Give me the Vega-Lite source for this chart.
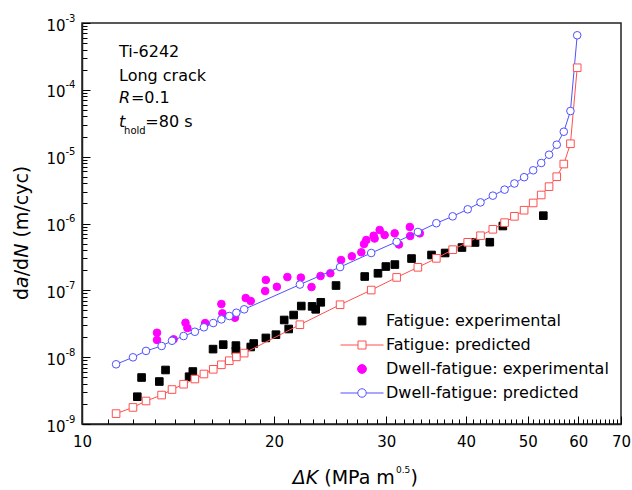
{
  "$schema": "https://vega.github.io/schema/vega-lite/v6.json",
  "width": 539,
  "height": 401,
  "autosize": {"type": "none"},
  "padding": {"left": 82, "top": 23, "right": 11, "bottom": 66},
  "background": "white",
  "config": {
    "font": "DejaVu Sans",
    "view": {"stroke": "#222", "strokeWidth": 1.5},
    "axis": {"labelFont": "DejaVu Sans", "labelColor": "#000", "tickColor": "#000", "domainColor": "#222", "grid": false}
  },
  "datasets": {
    "exp": [
      {"s": "Fatigue: experimental", "k": 12.21, "r": 2.56e-9},
      {"s": "Fatigue: experimental", "k": 12.40, "r": 4.96e-9},
      {"s": "Fatigue: experimental", "k": 13.22, "r": 4.32e-9},
      {"s": "Fatigue: experimental", "k": 13.52, "r": 6.43e-9},
      {"s": "Fatigue: experimental", "k": 14.72, "r": 5.10e-9},
      {"s": "Fatigue: experimental", "k": 14.92, "r": 6.10e-9},
      {"s": "Fatigue: experimental", "k": 16.05, "r": 1.32e-8},
      {"s": "Fatigue: experimental", "k": 16.65, "r": 1.54e-8},
      {"s": "Fatigue: experimental", "k": 17.43, "r": 1.49e-8},
      {"s": "Fatigue: experimental", "k": 17.43, "r": 1.24e-8},
      {"s": "Fatigue: experimental", "k": 18.39, "r": 1.42e-8},
      {"s": "Fatigue: experimental", "k": 18.59, "r": 1.60e-8},
      {"s": "Fatigue: experimental", "k": 19.42, "r": 1.94e-8},
      {"s": "Fatigue: experimental", "k": 20.14, "r": 2.17e-8},
      {"s": "Fatigue: experimental", "k": 20.75, "r": 3.60e-8},
      {"s": "Fatigue: experimental", "k": 21.09, "r": 2.64e-8},
      {"s": "Fatigue: experimental", "k": 21.47, "r": 4.27e-8},
      {"s": "Fatigue: experimental", "k": 22.07, "r": 5.82e-8},
      {"s": "Fatigue: experimental", "k": 22.95, "r": 5.75e-8},
      {"s": "Fatigue: experimental", "k": 23.25, "r": 5.20e-8},
      {"s": "Fatigue: experimental", "k": 23.68, "r": 6.62e-8},
      {"s": "Fatigue: experimental", "k": 25.02, "r": 1.18e-7},
      {"s": "Fatigue: experimental", "k": 27.75, "r": 1.61e-7},
      {"s": "Fatigue: experimental", "k": 29.11, "r": 1.80e-7},
      {"s": "Fatigue: experimental", "k": 29.95, "r": 2.27e-7},
      {"s": "Fatigue: experimental", "k": 30.94, "r": 2.43e-7},
      {"s": "Fatigue: experimental", "k": 32.86, "r": 2.99e-7},
      {"s": "Fatigue: experimental", "k": 35.32, "r": 3.38e-7},
      {"s": "Fatigue: experimental", "k": 37.10, "r": 3.62e-7},
      {"s": "Fatigue: experimental", "k": 39.42, "r": 4.37e-7},
      {"s": "Fatigue: experimental", "k": 41.33, "r": 5.20e-7},
      {"s": "Fatigue: experimental", "k": 43.59, "r": 5.25e-7},
      {"s": "Fatigue: experimental", "k": 45.69, "r": 9.17e-7},
      {"s": "Fatigue: experimental", "k": 52.88, "r": 1.31e-6},
      {"s": "Dwell-fatigue: experimental", "k": 13.11, "r": 2.32e-8},
      {"s": "Dwell-fatigue: experimental", "k": 13.11, "r": 1.81e-8},
      {"s": "Dwell-fatigue: experimental", "k": 13.92, "r": 1.85e-8},
      {"s": "Dwell-fatigue: experimental", "k": 14.53, "r": 3.27e-8},
      {"s": "Dwell-fatigue: experimental", "k": 14.63, "r": 2.73e-8},
      {"s": "Dwell-fatigue: experimental", "k": 15.60, "r": 3.24e-8},
      {"s": "Dwell-fatigue: experimental", "k": 16.54, "r": 6.24e-8},
      {"s": "Dwell-fatigue: experimental", "k": 16.60, "r": 4.53e-8},
      {"s": "Dwell-fatigue: experimental", "k": 17.37, "r": 3.89e-8},
      {"s": "Dwell-fatigue: experimental", "k": 18.06, "r": 7.67e-8},
      {"s": "Dwell-fatigue: experimental", "k": 18.39, "r": 6.92e-8},
      {"s": "Dwell-fatigue: experimental", "k": 19.42, "r": 1.43e-7},
      {"s": "Dwell-fatigue: experimental", "k": 19.37, "r": 9.77e-8},
      {"s": "Dwell-fatigue: experimental", "k": 20.21, "r": 1.13e-7},
      {"s": "Dwell-fatigue: experimental", "k": 20.99, "r": 1.58e-7},
      {"s": "Dwell-fatigue: experimental", "k": 22.04, "r": 1.55e-7},
      {"s": "Dwell-fatigue: experimental", "k": 22.90, "r": 1.12e-7},
      {"s": "Dwell-fatigue: experimental", "k": 23.66, "r": 1.64e-7},
      {"s": "Dwell-fatigue: experimental", "k": 24.51, "r": 1.80e-7},
      {"s": "Dwell-fatigue: experimental", "k": 25.48, "r": 2.84e-7},
      {"s": "Dwell-fatigue: experimental", "k": 26.49, "r": 3.23e-7},
      {"s": "Dwell-fatigue: experimental", "k": 27.41, "r": 3.71e-7},
      {"s": "Dwell-fatigue: experimental", "k": 27.68, "r": 4.93e-7},
      {"s": "Dwell-fatigue: experimental", "k": 27.91, "r": 5.66e-7},
      {"s": "Dwell-fatigue: experimental", "k": 28.66, "r": 6.56e-7},
      {"s": "Dwell-fatigue: experimental", "k": 28.76, "r": 5.96e-7},
      {"s": "Dwell-fatigue: experimental", "k": 29.29, "r": 8.00e-7},
      {"s": "Dwell-fatigue: experimental", "k": 29.82, "r": 6.73e-7},
      {"s": "Dwell-fatigue: experimental", "k": 30.92, "r": 7.13e-7},
      {"s": "Dwell-fatigue: experimental", "k": 31.40, "r": 4.85e-7},
      {"s": "Dwell-fatigue: experimental", "k": 32.66, "r": 8.87e-7},
      {"s": "Dwell-fatigue: experimental", "k": 32.70, "r": 6.50e-7},
      {"s": "Dwell-fatigue: experimental", "k": 33.86, "r": 7.13e-7}
    ],
    "pred": [
      {"s": "Fatigue: predicted", "k": 11.31, "r": 1.43e-9},
      {"s": "Fatigue: predicted", "k": 12.02, "r": 1.77e-9},
      {"s": "Fatigue: predicted", "k": 12.60, "r": 2.21e-9},
      {"s": "Fatigue: predicted", "k": 13.33, "r": 2.71e-9},
      {"s": "Fatigue: predicted", "k": 13.84, "r": 3.28e-9},
      {"s": "Fatigue: predicted", "k": 14.43, "r": 3.94e-9},
      {"s": "Fatigue: predicted", "k": 15.03, "r": 4.71e-9},
      {"s": "Fatigue: predicted", "k": 15.53, "r": 5.60e-9},
      {"s": "Fatigue: predicted", "k": 16.06, "r": 6.58e-9},
      {"s": "Fatigue: predicted", "k": 16.54, "r": 7.69e-9},
      {"s": "Fatigue: predicted", "k": 17.02, "r": 8.85e-9},
      {"s": "Fatigue: predicted", "k": 17.46, "r": 1.01e-8},
      {"s": "Fatigue: predicted", "k": 17.96, "r": 1.15e-8},
      {"s": "Fatigue: predicted", "k": 21.96, "r": 3.06e-8},
      {"s": "Fatigue: predicted", "k": 25.39, "r": 6.09e-8},
      {"s": "Fatigue: predicted", "k": 28.41, "r": 1.01e-7},
      {"s": "Fatigue: predicted", "k": 31.14, "r": 1.56e-7},
      {"s": "Fatigue: predicted", "k": 33.62, "r": 2.21e-7},
      {"s": "Fatigue: predicted", "k": 35.94, "r": 3.01e-7},
      {"s": "Fatigue: predicted", "k": 38.12, "r": 4.06e-7},
      {"s": "Fatigue: predicted", "k": 40.25, "r": 5.23e-7},
      {"s": "Fatigue: predicted", "k": 42.15, "r": 6.56e-7},
      {"s": "Fatigue: predicted", "k": 44.07, "r": 8.19e-7},
      {"s": "Fatigue: predicted", "k": 45.98, "r": 1.03e-6},
      {"s": "Fatigue: predicted", "k": 47.64, "r": 1.28e-6},
      {"s": "Fatigue: predicted", "k": 49.34, "r": 1.58e-6},
      {"s": "Fatigue: predicted", "k": 50.98, "r": 2.03e-6},
      {"s": "Fatigue: predicted", "k": 52.48, "r": 2.67e-6},
      {"s": "Fatigue: predicted", "k": 53.99, "r": 3.56e-6},
      {"s": "Fatigue: predicted", "k": 55.51, "r": 5.01e-6},
      {"s": "Fatigue: predicted", "k": 56.94, "r": 7.76e-6},
      {"s": "Fatigue: predicted", "k": 58.32, "r": 1.56e-5},
      {"s": "Fatigue: predicted", "k": 59.76, "r": 2.14e-4},
      {"s": "Dwell-fatigue: predicted", "k": 11.31, "r": 7.82e-9},
      {"s": "Dwell-fatigue: predicted", "k": 12.02, "r": 9.95e-9},
      {"s": "Dwell-fatigue: predicted", "k": 12.60, "r": 1.24e-8},
      {"s": "Dwell-fatigue: predicted", "k": 13.33, "r": 1.47e-8},
      {"s": "Dwell-fatigue: predicted", "k": 13.84, "r": 1.76e-8},
      {"s": "Dwell-fatigue: predicted", "k": 14.43, "r": 2.07e-8},
      {"s": "Dwell-fatigue: predicted", "k": 15.03, "r": 2.40e-8},
      {"s": "Dwell-fatigue: predicted", "k": 15.53, "r": 2.80e-8},
      {"s": "Dwell-fatigue: predicted", "k": 16.06, "r": 3.24e-8},
      {"s": "Dwell-fatigue: predicted", "k": 16.54, "r": 3.68e-8},
      {"s": "Dwell-fatigue: predicted", "k": 17.02, "r": 4.13e-8},
      {"s": "Dwell-fatigue: predicted", "k": 17.46, "r": 4.62e-8},
      {"s": "Dwell-fatigue: predicted", "k": 17.96, "r": 5.20e-8},
      {"s": "Dwell-fatigue: predicted", "k": 21.96, "r": 1.22e-7},
      {"s": "Dwell-fatigue: predicted", "k": 25.39, "r": 2.23e-7},
      {"s": "Dwell-fatigue: predicted", "k": 28.41, "r": 3.62e-7},
      {"s": "Dwell-fatigue: predicted", "k": 31.14, "r": 5.32e-7},
      {"s": "Dwell-fatigue: predicted", "k": 33.62, "r": 7.46e-7},
      {"s": "Dwell-fatigue: predicted", "k": 35.94, "r": 1.01e-6},
      {"s": "Dwell-fatigue: predicted", "k": 38.12, "r": 1.28e-6},
      {"s": "Dwell-fatigue: predicted", "k": 40.25, "r": 1.63e-6},
      {"s": "Dwell-fatigue: predicted", "k": 42.15, "r": 2.07e-6},
      {"s": "Dwell-fatigue: predicted", "k": 44.07, "r": 2.61e-6},
      {"s": "Dwell-fatigue: predicted", "k": 45.98, "r": 3.21e-6},
      {"s": "Dwell-fatigue: predicted", "k": 47.64, "r": 3.97e-6},
      {"s": "Dwell-fatigue: predicted", "k": 49.34, "r": 4.93e-6},
      {"s": "Dwell-fatigue: predicted", "k": 50.98, "r": 6.25e-6},
      {"s": "Dwell-fatigue: predicted", "k": 52.48, "r": 8.04e-6},
      {"s": "Dwell-fatigue: predicted", "k": 53.99, "r": 1.07e-5},
      {"s": "Dwell-fatigue: predicted", "k": 55.51, "r": 1.51e-5},
      {"s": "Dwell-fatigue: predicted", "k": 56.94, "r": 2.36e-5},
      {"s": "Dwell-fatigue: predicted", "k": 58.32, "r": 4.82e-5},
      {"s": "Dwell-fatigue: predicted", "k": 59.76, "r": 6.55e-4}
    ],
    "series": [
      {"s": "Fatigue: experimental"},
      {"s": "Fatigue: predicted"},
      {"s": "Dwell-fatigue: experimental"},
      {"s": "Dwell-fatigue: predicted"}
    ],
    "annNormal": [
      {"t": "Ti-6242", "k": 11.43, "r": 3.10e-4},
      {"t": "Long crack", "k": 11.43, "r": 1.356e-4},
      {"t": "=0.1", "k": 11.93, "r": 6.35e-5},
      {"t": "=80 s", "k": 12.57, "r": 2.78e-5}
    ],
    "annItalic": [
      {"t": "R", "k": 11.43, "r": 6.35e-5},
      {"t": "t", "k": 11.43, "r": 2.78e-5}
    ],
    "annSub": [
      {"t": "hold", "k": 11.64, "r": 2.18e-5}
    ],
    "xtNormal": [
      {"t": "(MPa m", "k": 23.98, "r": 1.265e-10},
      {"t": ")", "k": 32.73, "r": 1.265e-10}
    ],
    "xtItalic": [
      {"t": "ΔK", "k": 21.41, "r": 1.265e-10}
    ],
    "xtSup": [
      {"t": "0.5", "k": 31.07, "r": 1.85e-10}
    ],
    "ytNormal": [
      {"t": "d", "k": 8.222, "r": 7.16e-8},
      {"t": "/d", "k": 8.222, "r": 1.621e-7},
      {"t": "(m/cyc)", "k": 8.222, "r": 6.15e-7}
    ],
    "ytItalic": [
      {"t": "a", "k": 8.222, "r": 1.087e-7},
      {"t": "N", "k": 8.222, "r": 3.067e-7}
    ]
  },
  "layer": [
    {
      "data": {"name": "exp"},
      "mark": {"type": "point", "opacity": 1, "strokeWidth": 1, "size": 58},
      "encoding": {
        "x": {"field": "k", "type": "quantitative", "scale": {"type": "log", "domain": [10, 70], "nice": false},
          "axis": {"orient": "bottom", "values": [11,12,13,14,15,16,17,18,19,21,22,23,24,25,26,27,28,29,31,32,33,34,35,36,37,38,39,41,42,43,44,45,46,47,48,49,51,52,53,54,55,56,57,58,59,61,62,63,64,65,66,67,68,69], "labels": false, "domain": false, "tickSize": -5, "tickWidth": 1, "title": null, "grid": false}},
        "y": {"field": "r", "type": "quantitative", "scale": {"type": "log", "domain": [1e-9, 1e-3], "nice": false},
          "axis": {"orient": "left", "values": [2e-9,3e-9,4e-9,5e-9,6e-9,7e-9,8e-9,9e-9,2e-8,3e-8,4e-8,5e-8,6e-8,7e-8,8e-8,9e-8,2e-7,3e-7,4e-7,5e-7,6e-7,7e-7,8e-7,9e-7,2e-6,3e-6,4e-6,5e-6,6e-6,7e-6,8e-6,9e-6,2e-5,3e-5,4e-5,5e-5,6e-5,7e-5,8e-5,9e-5,2e-4,3e-4,4e-4,5e-4,6e-4,7e-4,8e-4,9e-4], "labels": false, "domain": false, "tickSize": -5, "tickWidth": 1, "title": null, "grid": false}},
        "shape": {"field": "s", "type": "nominal",
          "scale": {"domain": ["Fatigue: experimental", "Fatigue: predicted", "Dwell-fatigue: experimental", "Dwell-fatigue: predicted"], "range": ["square", "square", "circle", "circle"]}, "legend": null},
        "fill": {"field": "s", "type": "nominal",
          "scale": {"domain": ["Fatigue: experimental", "Fatigue: predicted", "Dwell-fatigue: experimental", "Dwell-fatigue: predicted"], "range": ["#000000", "#ffffff", "#ff00ff", "#ffffff"]}, "legend": null},
        "stroke": {"field": "s", "type": "nominal",
          "scale": {"domain": ["Fatigue: experimental", "Fatigue: predicted", "Dwell-fatigue: experimental", "Dwell-fatigue: predicted"], "range": ["#000000", "#ff5050", "#ff00ff", "#5050ff"]}, "legend": null}
      }
    },
    {
      "data": {"name": "pred"},
      "mark": {"type": "line", "strokeWidth": 1},
      "encoding": {
        "x": {"field": "k", "type": "quantitative", "scale": {"type": "log", "domain": [10, 70], "nice": false},
          "axis": {"orient": "bottom", "values": [10, 20, 30, 40, 50, 60, 70], "format": "d", "tickSize": -8, "tickWidth": 1, "domainWidth": 1.5, "labelFontSize": 15, "labelPadding": 18, "labelFlush": false, "labelOverlap": false, "labelBound": false, "title": null, "grid": false}},
        "y": {"field": "r", "type": "quantitative", "scale": {"type": "log", "domain": [1e-9, 1e-3], "nice": false},
          "axis": {"orient": "left", "values": [1e-9, 1e-8, 1e-7, 1e-6, 1e-5, 1e-4, 1e-3], "labelExpr": "'10'", "tickSize": -8, "tickWidth": 1, "domainWidth": 1.5, "labelFontSize": 15, "labelPadding": 25, "labelOffset": 2, "labelFlush": false, "labelOverlap": false, "labelBound": false, "title": null, "grid": false}},
        "stroke": {"field": "s", "type": "nominal",
          "scale": {"domain": ["Fatigue: experimental", "Fatigue: predicted", "Dwell-fatigue: experimental", "Dwell-fatigue: predicted"], "range": ["#000000", "#ff5050", "#ff00ff", "#5050ff"]},
          "legend": null}
      }
    },
    {
      "data": {"name": "pred"},
      "mark": {"type": "point", "opacity": 1, "strokeWidth": 1, "size": 58},
      "encoding": {
        "x": {"field": "k", "type": "quantitative", "scale": {"type": "log", "domain": [10, 70], "nice": false}, "axis": null},
        "y": {"field": "r", "type": "quantitative", "scale": {"type": "log", "domain": [1e-9, 1e-3], "nice": false}, "axis": null},
        "shape": {"field": "s", "type": "nominal",
          "scale": {"domain": ["Fatigue: experimental", "Fatigue: predicted", "Dwell-fatigue: experimental", "Dwell-fatigue: predicted"], "range": ["square", "square", "circle", "circle"]}, "legend": null},
        "fill": {"field": "s", "type": "nominal",
          "scale": {"domain": ["Fatigue: experimental", "Fatigue: predicted", "Dwell-fatigue: experimental", "Dwell-fatigue: predicted"], "range": ["#000000", "#ffffff", "#ff00ff", "#ffffff"]}, "legend": null},
        "stroke": {"field": "s", "type": "nominal",
          "scale": {"domain": ["Fatigue: experimental", "Fatigue: predicted", "Dwell-fatigue: experimental", "Dwell-fatigue: predicted"], "range": ["#000000", "#ff5050", "#ff00ff", "#5050ff"]}, "legend": null}
      }
    },
    {
      "data": {"name": "series"},
      "mark": {"type": "point", "opacity": 0, "strokeWidth": 1},
      "encoding": {
        "shape": {"field": "s", "type": "nominal",
          "scale": {"domain": ["Fatigue: experimental", "Fatigue: predicted", "Dwell-fatigue: experimental", "Dwell-fatigue: predicted"],
            "range": ["M-4.3,0M4.3,0M-0.78,-0.78H0.78V0.78H-0.78Z", "M-4.3,0H-0.8M0.8,0H4.3M-0.8,-0.8H0.8V0.8H-0.8Z", "M-4.3,0M4.3,0M0.88,0C0.88,0.49,0.49,0.88,0,0.88C-0.49,0.88,-0.88,0.49,-0.88,0C-0.88,-0.49,-0.49,-0.88,0,-0.88C0.49,-0.88,0.88,-0.49,0.88,0Z", "M-4.3,0H-0.85M0.85,0H4.3M0.85,0C0.85,0.47,0.47,0.85,0,0.85C-0.47,0.85,-0.85,0.47,-0.85,0C-0.85,-0.47,-0.47,-0.85,0,-0.85C0.47,-0.85,0.85,-0.47,0.85,0Z"]},
          "legend": {"orient": "none", "legendX": 272, "legendY": 290, "direction": "vertical", "title": null, "labelFont": "DejaVu Sans", "labelFontSize": 16, "labelColor": "#000", "labelLimit": 400, "labelOffset": 16, "rowPadding": 8, "symbolSize": 100, "symbolStrokeWidth": 1, "symbolOpacity": 1, "padding": 0}},
        "fill": {"field": "s", "type": "nominal",
          "scale": {"domain": ["Fatigue: experimental", "Fatigue: predicted", "Dwell-fatigue: experimental", "Dwell-fatigue: predicted"], "range": ["#000000", "#ffffff", "#ff00ff", "#ffffff"]},
          "legend": {"orient": "none", "legendX": 272, "legendY": 290, "direction": "vertical", "title": null, "labelFont": "DejaVu Sans", "labelFontSize": 16, "labelColor": "#000", "labelLimit": 400, "labelOffset": 16, "rowPadding": 8, "symbolSize": 100, "symbolStrokeWidth": 1, "symbolOpacity": 1, "padding": 0}},
        "stroke": {"field": "s", "type": "nominal",
          "scale": {"domain": ["Fatigue: experimental", "Fatigue: predicted", "Dwell-fatigue: experimental", "Dwell-fatigue: predicted"], "range": ["#000000", "#ff5050", "#ff00ff", "#5050ff"]},
          "legend": {"orient": "none", "legendX": 272, "legendY": 290, "direction": "vertical", "title": null, "labelFont": "DejaVu Sans", "labelFontSize": 16, "labelColor": "#000", "labelLimit": 400, "labelOffset": 16, "rowPadding": 8, "symbolSize": 100, "symbolStrokeWidth": 1, "symbolOpacity": 1, "padding": 0}}
      }
    },
    {
      "data": {"name": "annNormal"},
      "mark": {"type": "text", "align": "left", "baseline": "alphabetic", "fontSize": 16, "font": "DejaVu Sans", "color": "#000"},
      "encoding": {
        "x": {"field": "k", "type": "quantitative", "scale": {"type": "log", "domain": [10, 70], "nice": false}, "axis": null},
        "y": {"field": "r", "type": "quantitative", "scale": {"type": "log", "domain": [1e-9, 1e-3], "nice": false},
          "axis": {"orient": "left", "values": [1e-9, 1e-8, 1e-7, 1e-6, 1e-5, 1e-4, 1e-3], "labelExpr": "'-' + round(-log(datum.value) / LN10)", "ticks": false, "domain": false, "labelAlign": "left", "labelBaseline": "middle", "labelPadding": 17, "labelOffset": -5, "labelFontSize": 10, "labelFlush": false, "labelOverlap": false, "labelBound": false, "title": null, "grid": false}},
        "text": {"field": "t"}
      }
    },
    {
      "data": {"name": "annItalic"},
      "mark": {"type": "text", "align": "left", "baseline": "alphabetic", "fontSize": 16, "fontStyle": "italic", "font": "DejaVu Sans", "color": "#000"},
      "encoding": {
        "x": {"field": "k", "type": "quantitative", "scale": {"type": "log", "domain": [10, 70], "nice": false}, "axis": null},
        "y": {"field": "r", "type": "quantitative", "scale": {"type": "log", "domain": [1e-9, 1e-3], "nice": false}, "axis": null},
        "text": {"field": "t"}
      }
    },
    {
      "data": {"name": "annSub"},
      "mark": {"type": "text", "align": "left", "baseline": "alphabetic", "fontSize": 10, "font": "DejaVu Sans", "color": "#000"},
      "encoding": {
        "x": {"field": "k", "type": "quantitative", "scale": {"type": "log", "domain": [10, 70], "nice": false}, "axis": null},
        "y": {"field": "r", "type": "quantitative", "scale": {"type": "log", "domain": [1e-9, 1e-3], "nice": false}, "axis": null},
        "text": {"field": "t"}
      }
    },
    {
      "data": {"name": "xtNormal"},
      "mark": {"type": "text", "align": "left", "baseline": "alphabetic", "fontSize": 19, "font": "DejaVu Sans", "color": "#000"},
      "encoding": {
        "x": {"field": "k", "type": "quantitative", "scale": {"type": "log", "domain": [10, 70], "nice": false}, "axis": null},
        "y": {"field": "r", "type": "quantitative", "scale": {"type": "log", "domain": [1e-9, 1e-3], "nice": false}, "axis": null},
        "text": {"field": "t"}
      }
    },
    {
      "data": {"name": "xtItalic"},
      "mark": {"type": "text", "align": "left", "baseline": "alphabetic", "fontSize": 19, "fontStyle": "italic", "font": "DejaVu Sans", "color": "#000"},
      "encoding": {
        "x": {"field": "k", "type": "quantitative", "scale": {"type": "log", "domain": [10, 70], "nice": false}, "axis": null},
        "y": {"field": "r", "type": "quantitative", "scale": {"type": "log", "domain": [1e-9, 1e-3], "nice": false}, "axis": null},
        "text": {"field": "t"}
      }
    },
    {
      "data": {"name": "xtSup"},
      "mark": {"type": "text", "align": "left", "baseline": "alphabetic", "fontSize": 9, "font": "DejaVu Sans", "color": "#000"},
      "encoding": {
        "x": {"field": "k", "type": "quantitative", "scale": {"type": "log", "domain": [10, 70], "nice": false}, "axis": null},
        "y": {"field": "r", "type": "quantitative", "scale": {"type": "log", "domain": [1e-9, 1e-3], "nice": false}, "axis": null},
        "text": {"field": "t"}
      }
    },
    {
      "data": {"name": "ytNormal"},
      "mark": {"type": "text", "align": "left", "baseline": "alphabetic", "angle": 270, "fontSize": 19, "font": "DejaVu Sans", "color": "#000"},
      "encoding": {
        "x": {"field": "k", "type": "quantitative", "scale": {"type": "log", "domain": [10, 70], "nice": false}, "axis": null},
        "y": {"field": "r", "type": "quantitative", "scale": {"type": "log", "domain": [1e-9, 1e-3], "nice": false}, "axis": null},
        "text": {"field": "t"}
      }
    },
    {
      "data": {"name": "ytItalic"},
      "mark": {"type": "text", "align": "left", "baseline": "alphabetic", "angle": 270, "fontSize": 19, "fontStyle": "italic", "font": "DejaVu Sans", "color": "#000"},
      "encoding": {
        "x": {"field": "k", "type": "quantitative", "scale": {"type": "log", "domain": [10, 70], "nice": false}, "axis": null},
        "y": {"field": "r", "type": "quantitative", "scale": {"type": "log", "domain": [1e-9, 1e-3], "nice": false}, "axis": null},
        "text": {"field": "t"}
      }
    }
  ],
  "resolve": {
    "axis": {"x": "independent", "y": "independent"},
    "scale": {"shape": "independent", "fill": "independent", "stroke": "independent"}
  }
}
